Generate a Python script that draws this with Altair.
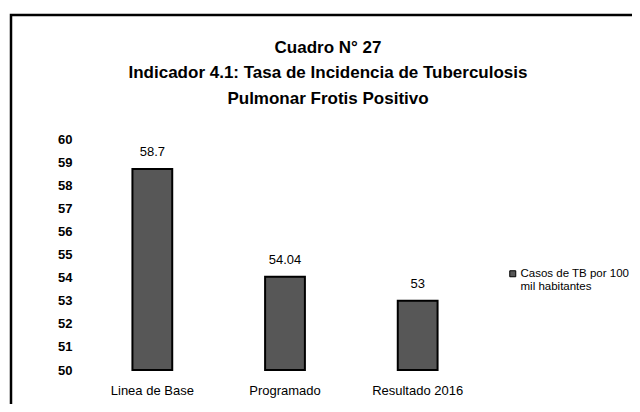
import altair as alt
import pandas as pd

categories = ["Linea de Base", "Programado", "Resultado 2016"]
values = [58.7, 54.04, 53]
labels = ["58.7", "54.04", "53"]
series = "Casos de TB por 100 mil habitantes"
y_ticks = [50, 51, 52, 53, 54, 55, 56, 57, 58, 59, 60]
y_base = 50

df = pd.DataFrame({"cat": categories, "val": values, "lab": labels, "serie": [series] * 3})

FONT = "Liberation Sans"

x_enc = alt.X("cat:N", sort=categories, title=None,
              scale=alt.Scale(paddingInner=0.7, paddingOuter=0.35),
              axis=alt.Axis(labelAngle=0, domain=False, ticks=False, labelPadding=14,
                            labelFontSize=13, labelFont=FONT, labelColor="black"))
y_enc = alt.Y("val:Q", title=None,
              scale=alt.Scale(domain=[50, 60], zero=False, nice=False),
              axis=alt.Axis(values=y_ticks, domain=False, ticks=False, grid=False,
                            labelOverlap=False, labelPadding=14, labelFontSize=13,
                            labelFont=FONT, labelColor="black", labelFontWeight="bold"))

bars = alt.Chart(df).mark_bar(stroke="black", strokeWidth=2).encode(
    x=x_enc, y=y_enc, y2=alt.datum(y_base),
    color=alt.Color("serie:N", scale=alt.Scale(range=["#575757"]), title=None,
                    legend=alt.Legend(orient="none", legendX=421, legendY=129,
                                      symbolType="square", symbolSize=36,
                                      symbolStrokeColor="black", symbolStrokeWidth=1,
                                      labelFont=FONT, labelFontSize=11.5, labelColor="black",
                                      labelOffset=2,
                                      labelExpr="['Casos de TB por 100', 'mil habitantes']",
                                      labelLimit=200))
)

text = alt.Chart(df).mark_text(dy=-17, fontSize=13, font=FONT, color="black").encode(
    x=x_enc, y=y_enc, text="lab:N"
)

frame = alt.Chart(alt.Data(values=[{}])).mark_rect(
    fill=None, stroke="black", strokeWidth=2.5
).encode(x=alt.value(-75), x2=alt.value(564), y=alt.value(-124), y2=alt.value(290))

chart = alt.layer(frame, bars, text).properties(
    width=398, height=231,
    background="white",
    autosize=alt.AutoSizeParams(type="none"),
    padding={"left": 78, "top": 131, "right": 148, "bottom": 34},
    title=alt.TitleParams(
        text="Cuadro N° 27",
        subtitle=["Indicador 4.1: Tasa de Incidencia de Tuberculosis", "Pulmonar Frotis Positivo"],
        anchor="middle", dx=43, offset=-94,
        font=FONT, fontSize=17, fontWeight="bold", color="black",
        subtitleFont=FONT, subtitleFontSize=17, subtitleFontWeight="bold",
        subtitleColor="black", subtitleLineHeight=26, subtitlePadding=8,
    ),
).configure_view(stroke="transparent", strokeWidth=0)

chart.save("out.html", embed_options={"renderer": "svg", "actions": False})
